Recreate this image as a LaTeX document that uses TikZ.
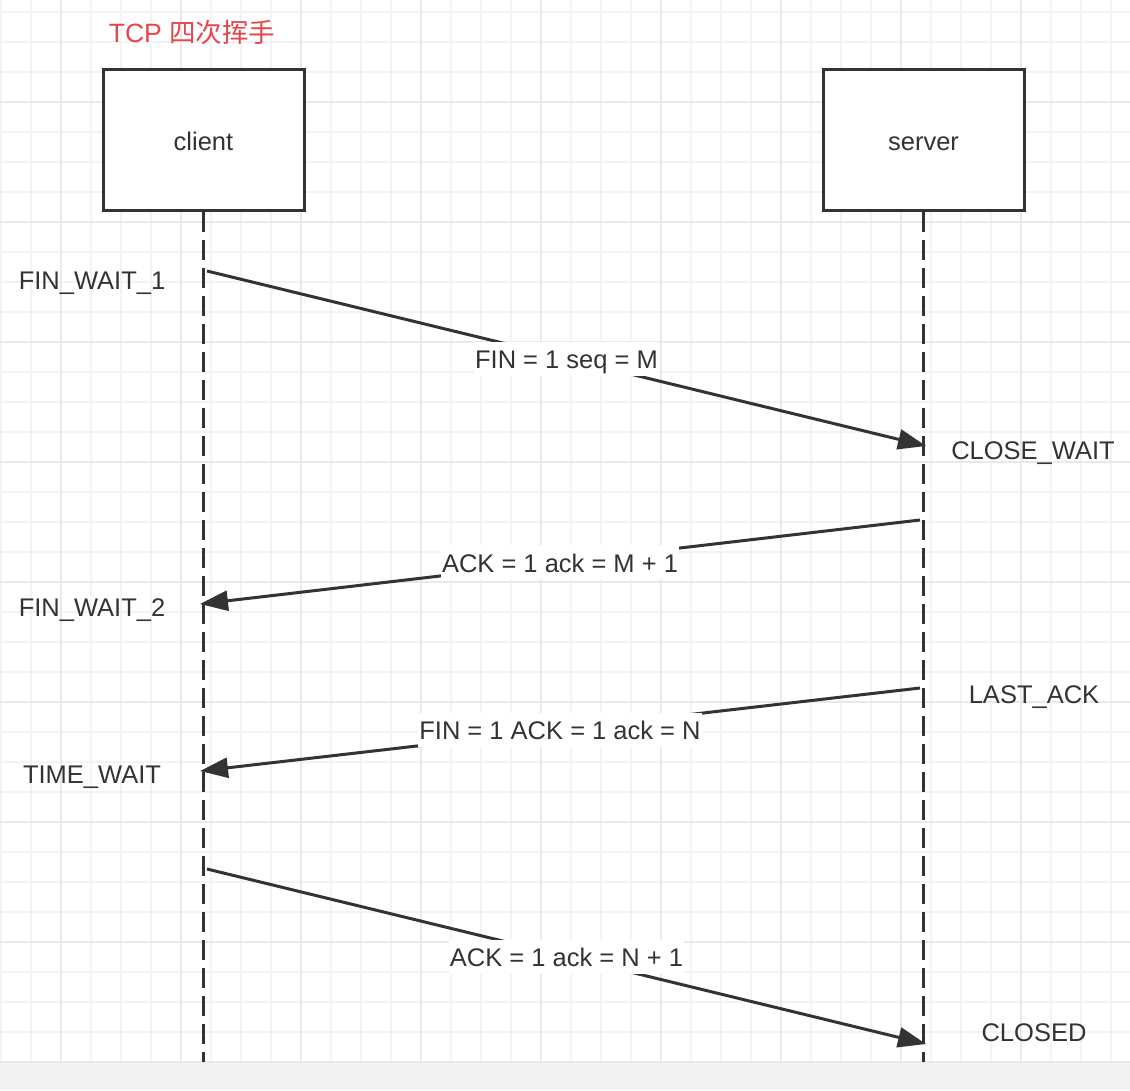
\documentclass[tikz,border=0pt]{standalone}
\usepackage{fontspec}
\setmainfont{Liberation Sans}
\newfontfamily\cjkfont{Noto Sans CJK SC}
\usetikzlibrary{arrows.meta}
\definecolor{ink}{HTML}{333333}
\definecolor{titlered}{HTML}{E4474B}
\definecolor{gridminor}{HTML}{F3F3F3}
\definecolor{gridmajor}{HTML}{E9E9E9}
\definecolor{band}{HTML}{F2F2F2}
\tikzset{
  actor/.style={draw=ink, line width=3pt, fill=white, minimum width=201pt, minimum height=141pt, inner sep=0pt, text=ink, text height=23pt, text depth=2pt, font=\fontsize{25.5}{30}\selectfont},
  lifeline/.style={draw=ink, line width=3pt, dash pattern=on 20pt off 8pt},
  msg/.style={draw=ink, line width=3pt, -{Triangle[length=28pt,width=20pt]}},
  msglabel/.style={fill=white, text=ink, inner xsep=1pt, inner ysep=4pt, text height=23pt, text depth=3pt, font=\fontsize{25.5}{30}\selectfont},
  state/.style={text=ink, inner sep=0pt, text height=23pt, text depth=2pt, font=\fontsize{25.5}{30}\selectfont},
}
\begin{document}
\begin{tikzpicture}[x=1pt,y=-1pt]
\useasboundingbox (0,0) rectangle (1130,1090);
\fill[white] (0,0) rectangle (1130,1062);
\fill[band] (0,1062) rectangle (1130,1090);
% grid
\foreach \gx in {1,31,...,1130} {\draw[gridminor, line width=1.3pt] (\gx,0) -- (\gx,1062);}
\foreach \gy in {12,42,...,1062} {\draw[gridminor, line width=1.3pt] (0,\gy) -- (1130,\gy);}
\foreach \gx in {61,181,...,1130} {\draw[gridmajor, line width=1.8pt] (\gx,0) -- (\gx,1062);}
\foreach \gy in {102,222,...,1062} {\draw[gridmajor, line width=1.8pt] (0,\gy) -- (1130,\gy);}
% title
\node[text=titlered, inner sep=0pt, text height=24pt, text depth=2pt, font=\fontsize{26.5}{30}\selectfont] (title) at (192,31) {TCP {\cjkfont 四次挥手}};
% actors
\node[actor] (client) at (203.5,139.5) {client};
\node[actor] (server) at (923.5,139.5) {server};
\coordinate (cend) at (203.5,1062);
\coordinate (send) at (923.5,1062);
\draw[lifeline] (client.south) -- (cend);
\draw[lifeline] (server.south) -- (send);
% message endpoints
\coordinate (m1a) at (207,271);
\coordinate (m1b) at (926,446);
\coordinate (m2a) at (920,520);
\coordinate (m2b) at (200,604);
\coordinate (m3a) at (920,688);
\coordinate (m3b) at (200,771);
\coordinate (m4a) at (207,869);
\coordinate (m4b) at (926,1044);
\draw[msg] (m1a) -- node[msglabel] (l1) {FIN = 1 seq = M} (m1b);
\draw[msg] (m2a) -- node[msglabel] (l2) {ACK = 1 ack = M + 1} (m2b);
\draw[msg] (m3a) -- node[msglabel] (l3) {FIN = 1 ACK = 1 ack = N} (m3b);
\draw[msg] (m4a) -- node[msglabel] (l4) {ACK = 1 ack = N + 1} (m4b);
% states
\node[state] (s1) at (92,279) {FIN\_WAIT\_1};
\node[state] (s2) at (1033,449) {CLOSE\_WAIT};
\node[state] (s3) at (92,606) {FIN\_WAIT\_2};
\node[state] (s4) at (1034,693) {LAST\_ACK};
\node[state] (s5) at (92,773) {TIME\_WAIT};
\node[state] (s6) at (1034,1031) {CLOSED};
\end{tikzpicture}
\end{document}
